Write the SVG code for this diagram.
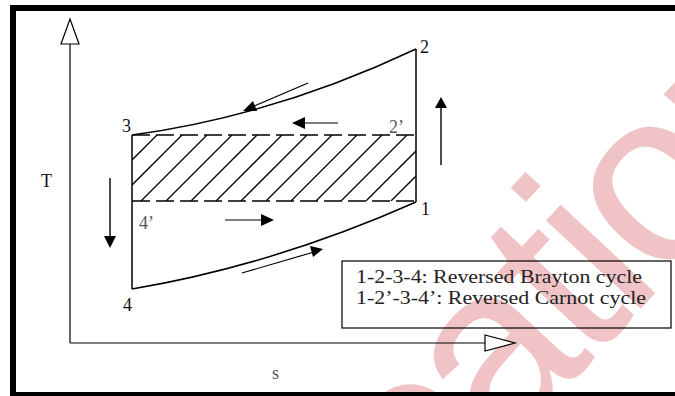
<svg xmlns="http://www.w3.org/2000/svg" width="675" height="396" viewBox="0 0 675 396">
  <defs>
    <style>
      .ln { stroke: #000; fill: none; }
      .lbl { font-family: "Liberation Serif", "Times New Roman", serif; font-size: 18px; fill: #111; }
      .gry { fill: #555; }
      .leg { font-family: "Liberation Serif", "Times New Roman", serif; font-size: 18px; fill: #222; }
      .dash { stroke: #000; stroke-width: 1.6; stroke-dasharray: 18 6; fill: none; }
      .hatch line { stroke: #000; stroke-width: 1.3; }
      .ah { fill: #000; stroke: none; }
      .open { fill: #fff; stroke: #000; stroke-width: 1.2; }
    </style>
    <clipPath id="rectClip">
      <rect x="132" y="135" width="284" height="66"/>
    </clipPath>
  </defs>
  <rect x="0" y="0" width="675" height="396" fill="#fff"/>

  <!-- watermark -->
  <text transform="translate(425,540) rotate(-47)" font-family="Liberation Sans, Arial, sans-serif" font-size="245" letter-spacing="-9" fill="#f0c4c6">cation</text>

  <!-- frame -->
  <g id="frame">
    <rect x="10" y="5" width="665" height="6" fill="#000"/>
    <rect x="10" y="5" width="6" height="391" fill="#000"/>
    <rect x="10" y="392" width="665" height="4" fill="#000"/>
  </g>

  <!-- axes -->
  <g id="axes">
    <line class="ln" x1="70" y1="44" x2="70" y2="343" stroke-width="1.2"/>
    <line class="ln" x1="70" y1="343" x2="485" y2="343" stroke-width="1.2"/>
    <polygon class="open" points="70,19 79,44 61,44"/>
    <polygon class="open" points="485,335 515,343 485,351"/>
    <text class="lbl" x="41" y="187">T</text>
    <text class="lbl gry" x="272" y="379">s</text>
  </g>

  <!-- hatched Carnot region -->
  <g id="carnot-region">
    <g class="hatch" clip-path="url(#rectClip)">
      <line x1="157" y1="135" x2="91" y2="201"/>
      <line x1="182" y1="135" x2="116" y2="201"/>
      <line x1="207" y1="135" x2="141" y2="201"/>
      <line x1="232" y1="135" x2="166" y2="201"/>
      <line x1="257" y1="135" x2="191" y2="201"/>
      <line x1="282" y1="135" x2="216" y2="201"/>
      <line x1="307" y1="135" x2="241" y2="201"/>
      <line x1="332" y1="135" x2="266" y2="201"/>
      <line x1="357" y1="135" x2="291" y2="201"/>
      <line x1="382" y1="135" x2="316" y2="201"/>
      <line x1="407" y1="135" x2="341" y2="201"/>
      <line x1="432" y1="135" x2="366" y2="201"/>
      <line x1="457" y1="135" x2="391" y2="201"/>
    </g>
    <line class="dash" x1="132" y1="135" x2="416" y2="135"/>
    <line class="dash" x1="132" y1="201" x2="416" y2="201"/>
  </g>

  <!-- cycle connectors -->
  <g id="connectors">
    <path class="ln" stroke-width="1.5" d="M132,135 Q274,116 416,49"/>
    <path class="ln" stroke-width="1.5" d="M132,289 Q274,265 416,202"/>
    <line class="ln" stroke-width="1.5" x1="416" y1="49" x2="416" y2="202"/>
    <line class="ln" stroke-width="1.5" x1="132" y1="135" x2="132" y2="289"/>

    <!-- direction arrows -->
    <line class="ln" stroke-width="1.2" x1="308" y1="83" x2="252" y2="107"/>
    <polygon class="ah" points="243,111 253,101 257,111"/>

    <line class="ln" stroke-width="1.2" x1="338" y1="123" x2="303" y2="123"/>
    <polygon class="ah" points="292,123 305,117 305,129"/>

    <line class="ln" stroke-width="1.4" x1="441" y1="165" x2="441" y2="106"/>
    <polygon class="ah" points="441,97 447,108 435,108"/>

    <line class="ln" stroke-width="1.4" x1="110" y1="178" x2="110" y2="238"/>
    <polygon class="ah" points="110,248 104,236 116,236"/>

    <line class="ln" stroke-width="1.2" x1="225" y1="220" x2="263" y2="220"/>
    <polygon class="ah" points="274,220 261,214 261,226"/>

    <line class="ln" stroke-width="1.2" x1="242" y1="273" x2="314" y2="252"/>
    <polygon class="ah" points="323,249 310,246 313,257"/>
  </g>

  <!-- state points -->
  <g id="p1"><text class="lbl" x="421" y="215">1</text></g>
  <g id="p2"><text class="lbl" x="420" y="53">2</text></g>
  <g id="p2p"><text class="lbl gry" x="389" y="133">2’</text></g>
  <g id="p3"><text class="lbl" x="122" y="132">3</text></g>
  <g id="p4"><text class="lbl" x="123" y="311">4</text></g>
  <g id="p4p"><text class="lbl gry" x="139" y="229">4’</text></g>

  <!-- legend -->
  <g id="legend">
    <rect x="342" y="261" width="329" height="67" fill="none" stroke="#000" stroke-width="1.2"/>
    <text class="leg" x="356" y="283" textLength="286" lengthAdjust="spacingAndGlyphs">1-2-3-4: Reversed Brayton cycle</text>
    <text class="leg" x="356" y="304" textLength="290" lengthAdjust="spacingAndGlyphs">1-2’-3-4’: Reversed Carnot cycle</text>
  </g>
</svg>
